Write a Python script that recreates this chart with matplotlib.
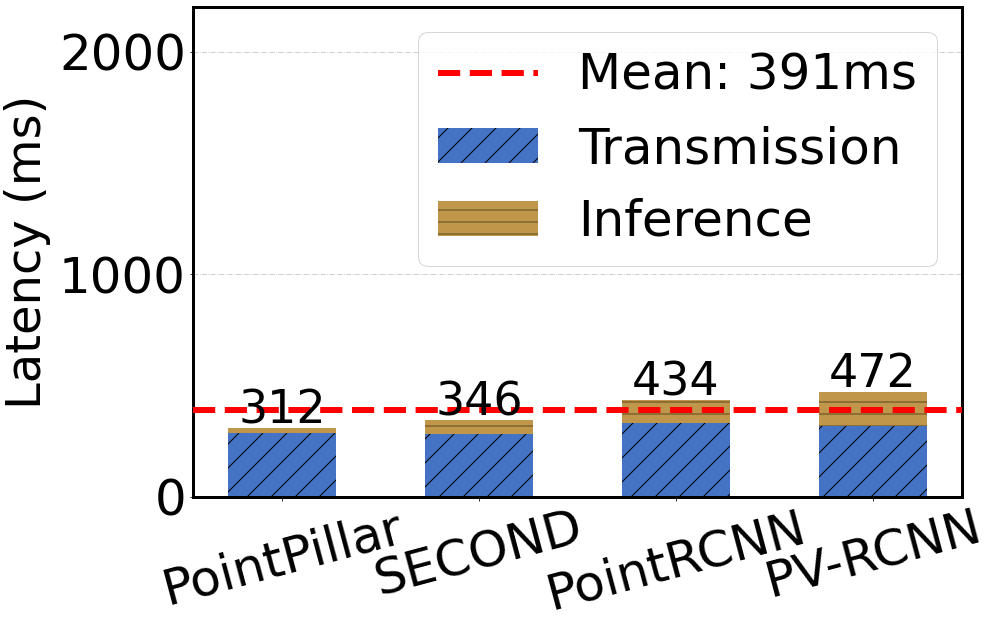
import numpy as np
import matplotlib; matplotlib.use('Agg')
import matplotlib.pyplot as plt

models = ['PointPillar', 'SECOND', 'PointRCNN', 'PV-RCNN']
transmission = [287, 285, 332, 318]
inference = [25, 61, 102, 154]
totals = [t + i for t, i in zip(transmission, inference)]
mean_lat = np.mean(totals)

plt.rcParams['hatch.linewidth'] = 1.0
fig, ax = plt.subplots(figsize=(994/72, 626/72), dpi=72)
fig.subplots_adjust(left=193/994, right=962/994, top=1-7/626, bottom=1-497/626)
x = np.arange(len(models))
w = 0.55
ax.grid(axis='y', linestyle='-.', color='#c4c4c4', linewidth=0.8, zorder=0)
ax.set_axisbelow(True)
ax.bar(x, transmission, w, color='#4472C4', edgecolor='black', linewidth=0, hatch='/', label='Transmission', zorder=2)
ax.bar(x, inference, w, bottom=transmission, color='#C0974A', edgecolor='#5c4824', linewidth=0, hatch='-', label='Inference', zorder=2)
ax.axhline(mean_lat, color='red', linestyle='--', linewidth=6, label=f'Mean: {mean_lat:.0f}ms', zorder=3)
for xi, tot in zip(x, totals):
    ax.text(xi, tot + 20, f'{tot}', ha='center', va='baseline', fontsize=46, zorder=4)

ax.set_ylim(0, 2200)
ax.set_yticks([0, 1000, 2000])
ax.set_xticks(x)
ax.set_xticklabels(models, rotation=15, ha='center', fontsize=50)
ax.tick_params(axis='y', labelsize=50)
ax.set_ylabel('Latency (ms)', fontsize=48, labelpad=8)
for s in ax.spines.values():
    s.set_linewidth(3)
ax.legend(loc='upper right', fontsize=50)
plt.savefig('out.png', dpi=72)
